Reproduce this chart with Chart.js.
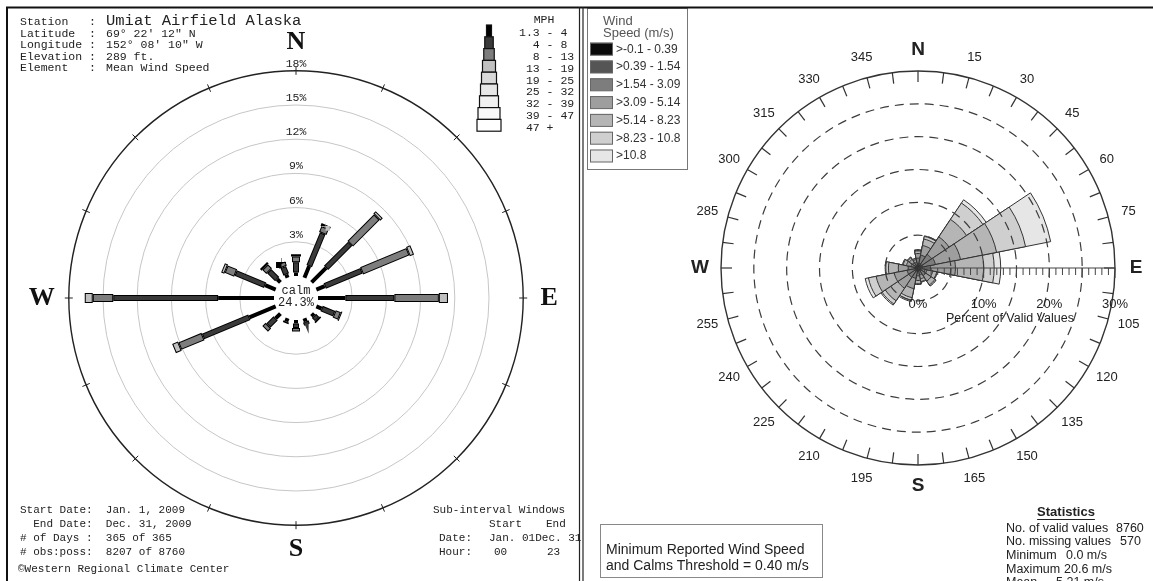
<!DOCTYPE html>
<html>
<head>
<meta charset="utf-8">
<title>Wind roses - Umiat Airfield Alaska 2009</title>
<script src="https://cdn.jsdelivr.net/npm/chart.js@4.4.1/dist/chart.umd.min.js"></script>
<style>
  html, body { margin: 0; padding: 0; background: #fff; }
  body { position: relative; width: 1153px; height: 581px; overflow: hidden; }
  canvas { position: absolute; top: 0; }
  #leftRose { left: 0; }
  #rightRose { left: 581px; }
</style>
</head>
<body>
<canvas id="leftRose" width="581" height="581"></canvas>
<canvas id="rightRose" width="572" height="581"></canvas>
<script>
const directions = ['N', 'NNE', 'NE', 'ENE', 'E', 'ESE', 'SE', 'SSE', 'S', 'SSW', 'SW', 'WSW', 'W', 'WNW', 'NW', 'NNW'];

// left rose (WRCC) - percent of observations by direction and mph class
const mphClasses = ['1.3 - 4', '  4 - 8', '  8 - 13', ' 13 - 19', ' 19 - 25', ' 25 - 32', ' 32 - 39', ' 39 - 47', ' 47 +'];
const mph1to4   = [0.3, 1.1, 1.8, 0.8, 2.4, 0.5, 0.3, 0.3, 0.3, 0.3, 0.6, 2.5, 4.9, 1.0, 0.4, 0.3];
const mph4to8   = [0.9, 3.1, 3.0, 3.5, 4.3, 1.2, 0.4, 0.3, 0.4, 0.15, 0.9, 4.4, 9.2, 2.8, 1.0, 0.7];
const mph8to13  = [0.5, 0.55, 3.3, 4.4, 3.9, 0.5, 0.15, 0, 0.3, 0, 0.4, 2.2, 1.8, 0.9, 0.5, 0.4];
const mph13to19 = [0.2, 0.25, 0.3, 0.4, 0.8, 0.1, 0, 0, 0, 0, 0, 0.55, 0.7, 0.3, 0.2, 0.1];
const calmPct = 24.3;
const ringPct = [3, 6, 9, 12, 15, 18];

// right rose - percent of valid values by direction and m/s class
const msClasses = ['>-0.1 - 0.39', '>0.39 - 1.54', '>1.54 - 3.09', '>3.09 - 5.14', '>5.14 - 8.23', '>8.23 - 10.8', '>10.8'];
const ms000to039 = [0.2, 0.2, 0.2, 0.2, 0.2, 0.1, 0.1, 0.1, 0.1, 0.1, 0.1, 0.1, 0.1, 0.1, 0.1, 0.1];
const ms039to154 = [0.4, 0.5, 0.5, 0.5, 0.4, 0.4, 0.4, 0.3, 0.3, 0.4, 0.4, 0.4, 0.4, 0.3, 0.3, 0.3];
const ms154to309 = [0.9, 1.3, 1.8, 2.0, 1.3, 0.9, 0.9, 0.7, 0.8, 1.1, 1.2, 1.2, 1.0, 0.7, 0.6, 0.5];
const ms309to514 = [0.7, 1.5, 3.2, 3.9, 3.8, 0.9, 1.0, 0.6, 0.7, 1.6, 2.0, 2.0, 1.5, 0.7, 0.6, 0.4];
const ms514to823 = [0.4, 1.0, 3.2, 5.6, 4.3, 0.6, 0.7, 0.4, 0.5, 1.4, 2.3, 2.8, 1.5, 0.5, 0.3, 0.2];
const ms823to108 = [0.1, 0.4, 3.0, 4.5, 1.6, 0.1, 0.2, 0.1, 0.1, 0.4, 0.6, 1.2, 0.4, 0.1, 0.1, 0.0];
const ms108up    = [0.1, 0.1, 0.6, 3.9, 1.0, 0.0, 0.0, 0.0, 0.0, 0.2, 0.2, 0.5, 0.1, 0.0, 0.0, 0.0];
const pctLabels = [0, 10, 20, 30];
const compassLabels = ['N', '15', '30', '45', '60', '75', 'E', '105', '120', '135', '150', '165',
  'S', '195', '210', '225', '240', '255', 'W', '285', '300', '315', '330', '345'];

const mono = '"Liberation Mono", "DejaVu Sans Mono", monospace';
const serif = '"Liberation Serif", "DejaVu Serif", serif';
const sans = '"Liberation Sans", Arial, sans-serif';

function text(ctx, s, x, y, font, color, align) {
  ctx.font = font;
  ctx.fillStyle = color || '#111';
  ctx.textAlign = align || 'left';
  ctx.textBaseline = 'middle';
  ctx.fillText(s, x, y);
}

function line(ctx, x1, y1, x2, y2, w, c) {
  ctx.beginPath();
  ctx.moveTo(x1, y1);
  ctx.lineTo(x2, y2);
  ctx.lineWidth = w;
  ctx.strokeStyle = c;
  ctx.lineCap = 'butt';
  ctx.stroke();
}

// ---------- left rose ----------
const PX = 11.4;            // px per percent
const CALM_U = 22 / PX;     // calm circle radius in percent units
const L_CX = 296, L_CY = 298, L_W = 581, L_H = 581;

const leftSeries = [mph1to4, mph4to8, mph8to13, mph13to19];
const mphColors = ['#000000', '#3a3a3a', '#7d7d7d', '#c0c0c0', '#d8d8d8', '#e6e6e6', '#f0f0f0', '#f8f8f8', '#ffffff'];
const spokeWidth = [4, 6, 8, 10, 12, 13, 15, 17, 18];
const legendWidth = [5, 8.5, 10.5, 13, 15, 17, 19, 22, 24];
const dirDeg = directions.map((d, i) => i * 360 / directions.length);

function spokePoints(k, trim) {
  const pts = [];
  dirDeg.forEach((deg, i) => {
    const v = leftSeries[k][i];
    if (!(v > 0)) return;
    let r0 = CALM_U;
    for (let j = 0; j < k; j++) r0 += leftSeries[j][i];
    const a = r0 + trim, b = r0 + v - trim;
    if (b - a < 0.05) return;
    const t = deg * Math.PI / 180;
    pts.push({x: a * Math.sin(t), y: a * Math.cos(t)},
             {x: b * Math.sin(t), y: b * Math.cos(t)},
             {x: 0, y: null});
  });
  return pts;
}

const leftSets = [];
leftSeries.forEach((s, k) => {
  if (k === 0) {
    leftSets.push({data: spokePoints(0, 0), borderColor: mphColors[0], borderWidth: spokeWidth[0]});
  } else {
    leftSets.push({data: spokePoints(k, 0), borderColor: '#000', borderWidth: spokeWidth[k]});
    leftSets.push({data: spokePoints(k, 1 / PX), borderColor: mphColors[k], borderWidth: spokeWidth[k] - 2});
  }
});
leftSets.forEach((d, i) => Object.assign(d, {
  showLine: true, pointRadius: 0, spanGaps: false, order: leftSets.length - i
}));

const leftDecor = {
  id: 'leftDecor',
  beforeDatasetsDraw(chart) {
    const ctx = chart.ctx;
    const {x, y} = chart.scales;
    const cx = x.getPixelForValue(0), cy = y.getPixelForValue(0);
    const rad = p => x.getPixelForValue(CALM_U + p) - cx;
    ctx.save();
    ringPct.forEach((p, i) => {
      const last = i === ringPct.length - 1;
      ctx.beginPath();
      ctx.arc(cx, cy, rad(p), 0, 2 * Math.PI);
      ctx.strokeStyle = last ? '#222' : '#c6c6c6';
      ctx.lineWidth = last ? 1.4 : 1;
      ctx.stroke();
    });
    const R = rad(ringPct[ringPct.length - 1]);
    dirDeg.forEach(deg => {
      const t = deg * Math.PI / 180;
      line(ctx, cx + (R - 4) * Math.sin(t), cy - (R - 4) * Math.cos(t),
        cx + (R + 4) * Math.sin(t), cy - (R + 4) * Math.cos(t), 1, '#222');
    });
    ctx.restore();
  },
  afterDatasetsDraw(chart) {
    const ctx = chart.ctx;
    const {x, y} = chart.scales;
    const cx = x.getPixelForValue(0), cy = y.getPixelForValue(0);
    const rad = p => x.getPixelForValue(CALM_U + p) - cx;
    const R = rad(ringPct[ringPct.length - 1]);
    ctx.save();

    ringPct.forEach(p => text(ctx, p + '%', cx, cy - rad(p) - 7, '11.5px ' + mono, '#222', 'center'));
    text(ctx, 'calm', cx, cy - 7, '12px ' + mono, '#222', 'center');
    text(ctx, calmPct.toFixed(1) + '%', cx, cy + 5, '12px ' + mono, '#222', 'center');

    const big = 'bold 26px ' + serif;
    text(ctx, 'N', cx, cy - R - 29, big, '#111', 'center');
    text(ctx, 'S', cx, cy + R + 24, big, '#111', 'center');
    text(ctx, 'W', cx - R - 27, cy, big, '#111', 'center');
    text(ctx, 'E', cx + R + 26, cy, big, '#111', 'center');

    // station header
    const f = '11.5px ' + mono;
    text(ctx, 'Station   :', 20, 22, f, '#222');
    text(ctx, 'Umiat Airfield Alaska', 106, 21, '15.5px ' + mono, '#222');
    text(ctx, 'Latitude  :', 20, 33.5, f, '#222');
    text(ctx, '69\u00b0 22\' 12" N', 106, 33.5, f, '#222');
    text(ctx, 'Longitude :', 20, 45, f, '#222');
    text(ctx, '152\u00b0 08\' 10" W', 106, 45, f, '#222');
    text(ctx, 'Elevation :', 20, 56.5, f, '#222');
    text(ctx, '289 ft.', 106, 56.5, f, '#222');
    text(ctx, 'Element   :', 20, 68, f, '#222');
    text(ctx, 'Mean Wind Speed', 106, 68, f, '#222');

    // mph legend
    const lgX = 489, lgTop = 25, lgStep = 11.8;
    text(ctx, 'MPH', 544, 20, f, '#222', 'center');
    mphClasses.forEach((lab, k) => {
      const w = legendWidth[k], y0 = lgTop + k * lgStep;
      ctx.fillStyle = mphColors[k];
      ctx.fillRect(lgX - w / 2, y0, w, lgStep);
      ctx.strokeStyle = '#111';
      ctx.lineWidth = 1.2;
      ctx.strokeRect(lgX - w / 2, y0, w, lgStep);
      text(ctx, lab, 519, y0 + lgStep / 2 + 2.5, f, '#222');
    });

    // bottom notes
    const g = '11px ' + mono;
    text(ctx, 'Start Date:  Jan. 1, 2009', 20, 510, g, '#222');
    text(ctx, '  End Date:  Dec. 31, 2009', 20, 524, g, '#222');
    text(ctx, '# of Days :  365 of 365', 20, 538, g, '#222');
    text(ctx, '# obs:poss:  8207 of 8760', 20, 552, g, '#222');
    text(ctx, '\u00a9Western Regional Climate Center', 18, 569, g, '#222');
    text(ctx, 'Sub-interval Windows', 433, 510, g, '#222');
    text(ctx, 'Start', 489, 524, g, '#222');
    text(ctx, 'End', 546, 524, g, '#222');
    text(ctx, 'Date:', 439, 538, g, '#222');
    text(ctx, 'Jan. 01Dec. 31', 489, 538, g, '#222');
    text(ctx, 'Hour:', 439, 552, g, '#222');
    text(ctx, '00', 494, 552, g, '#222');
    text(ctx, '23', 547, 552, g, '#222');

    // frame
    line(ctx, 6, 7.5, L_W, 7.5, 2, '#111');
    line(ctx, 7, 7, 7, L_H, 2, '#111');
    line(ctx, L_W - 1.5, 7, L_W - 1.5, L_H, 1.2, '#222');
    ctx.restore();
  }
};

new Chart(document.getElementById('leftRose'), {
  type: 'scatter',
  data: {datasets: leftSets},
  options: {
    responsive: false,
    animation: false,
    events: [],
    layout: {padding: 0},
    plugins: {legend: {display: false}, tooltip: {enabled: false}},
    scales: {
      x: {type: 'linear', display: false, min: -L_CX / PX, max: (L_W - L_CX) / PX},
      y: {type: 'linear', display: false, min: -(L_H - L_CY) / PX, max: L_CY / PX}
    }
  },
  plugins: [leftDecor]
});

// ---------- right rose ----------
const RX = 581; // page x of the right canvas
const msSeries = [ms000to039, ms039to154, ms154to309, ms309to514, ms514to823, ms823to108, ms108up];
const msColors = ['#0a0a0a', '#555555', '#7d7d7d', '#9e9e9e', '#b5b5b5', '#cfcfcf', '#e6e6e6'];
const cumSeries = [];
msSeries.forEach((s, k) => cumSeries.push(s.map((v, i) => v + (k ? cumSeries[k - 1][i] : 0))));
const rightSets = cumSeries.map((d, k) => ({
  data: d,
  backgroundColor: msColors[k],
  borderColor: '#333',
  borderWidth: 1
}));

const rightDecor = {
  id: 'rightDecor',
  afterDatasetsDraw(chart) {
    const ctx = chart.ctx, s = chart.scales.r;
    const cx = s.xCenter, cy = s.yCenter;
    const rr = v => s.getDistanceFromCenterForValue(v);
    const R = rr(30);
    const at = (deg, r) => [cx + r * Math.sin(deg * Math.PI / 180), cy - r * Math.cos(deg * Math.PI / 180)];
    ctx.save();

    ctx.setLineDash([9, 6]);
    ctx.strokeStyle = '#3c3c3c';
    ctx.lineWidth = 1.2;
    for (let v = 5; v < 30; v += 5) {
      ctx.beginPath();
      ctx.arc(cx, cy, rr(v), 0, 2 * Math.PI);
      ctx.stroke();
    }
    ctx.setLineDash([]);
    ctx.beginPath();
    ctx.arc(cx, cy, R, 0, 2 * Math.PI);
    ctx.strokeStyle = '#333';
    ctx.lineWidth = 1.4;
    ctx.stroke();

    for (let d = 0; d < 360; d += 7.5) {
      const [x1, y1] = at(d, R), [x2, y2] = at(d, R - 11);
      line(ctx, x1, y1, x2, y2, 1.2, '#333');
    }
    compassLabels.forEach((lab, i) => {
      const [x, y] = at(i * 15, 218);
      const bold = i % 6 === 0;
      text(ctx, lab, x, y, bold ? 'bold 19px ' + sans : '13px ' + sans, '#222', 'center');
    });

    // E axis with percent ticks
    line(ctx, cx, cy, cx + R, cy, 1.2, '#444');
    for (let v = 1; v <= 30; v++) {
      const xx = cx + rr(v);
      line(ctx, xx, cy, xx, cy + (v % 5 === 0 ? 10 : 7), 1, '#444');
    }
    pctLabels.forEach(v => text(ctx, v + '%', cx + rr(v), cy + 36, '13px ' + sans, '#222', 'center'));
    text(ctx, 'Percent of Valid Values', cx + rr(14), cy + 51, '12.5px ' + sans, '#222', 'center');

    // legend
    ctx.strokeStyle = '#777';
    ctx.lineWidth = 1;
    ctx.strokeRect(587.5 - RX, 8.5, 100, 161);
    text(ctx, 'Wind', 603 - RX, 21.5, '13px ' + sans, '#555');
    text(ctx, 'Speed (m/s)', 603 - RX, 33.5, '13px ' + sans, '#555');
    msClasses.forEach((lab, k) => {
      const y0 = 42.7 + k * 17.8;
      ctx.fillStyle = msColors[k];
      ctx.fillRect(590 - RX, y0, 22.5, 12.5);
      ctx.strokeStyle = '#666';
      ctx.strokeRect(590.5 - RX, y0 + 0.5, 22, 12);
      text(ctx, lab, 616 - RX, y0 + 6.5, '12px ' + sans, '#333');
    });

    // threshold box
    ctx.strokeStyle = '#888';
    ctx.strokeRect(600.5 - RX, 524.5, 222, 53);
    text(ctx, 'Minimum Reported Wind Speed', 606 - RX, 550, '14px ' + sans, '#222');
    text(ctx, 'and Calms Threshold = 0.40 m/s', 606 - RX, 566, '14px ' + sans, '#222');

    // statistics
    ctx.font = 'bold 13px ' + sans;
    const tw = ctx.measureText('Statistics').width;
    text(ctx, 'Statistics', 1066 - RX, 512, 'bold 13px ' + sans, '#222', 'center');
    line(ctx, 1066 - RX - tw / 2, 519.5, 1066 - RX + tw / 2, 519.5, 1, '#222');
    const st = '12.5px ' + sans;
    text(ctx, 'No. of valid values', 1006 - RX, 528.7, st, '#222');
    text(ctx, '8760', 1116 - RX, 528.7, st, '#222');
    text(ctx, 'No. missing values', 1006 - RX, 542, st, '#222');
    text(ctx, '570', 1120 - RX, 542, st, '#222');
    text(ctx, 'Minimum', 1006 - RX, 556, st, '#222');
    text(ctx, '0.0 m/s', 1066 - RX, 556, st, '#222');
    text(ctx, 'Maximum', 1006 - RX, 569.6, st, '#222');
    text(ctx, '20.6 m/s', 1064 - RX, 569.6, st, '#222');
    text(ctx, 'Mean', 1006 - RX, 583, st, '#222');
    text(ctx, '5.21 m/s', 1056 - RX, 583, st, '#222');

    // frame
    line(ctx, 0, 7.5, chart.width, 7.5, 2, '#111');
    line(ctx, 2, 7, 2, chart.height, 1.2, '#222');
    ctx.restore();
  }
};

new Chart(document.getElementById('rightRose'), {
  type: 'polarArea',
  data: {labels: directions, datasets: rightSets},
  options: {
    responsive: false,
    animation: false,
    events: [],
    layout: {padding: {left: 140, right: 38, top: 71, bottom: 116}},
    plugins: {legend: {display: false}, tooltip: {enabled: false}},
    scales: {
      r: {
        min: 0,
        max: 30,
        startAngle: -11.25,
        ticks: {display: false, stepSize: 5},
        grid: {display: false},
        angleLines: {display: false},
        pointLabels: {display: false}
      }
    }
  },
  plugins: [rightDecor]
});
</script>
</body>
</html>
